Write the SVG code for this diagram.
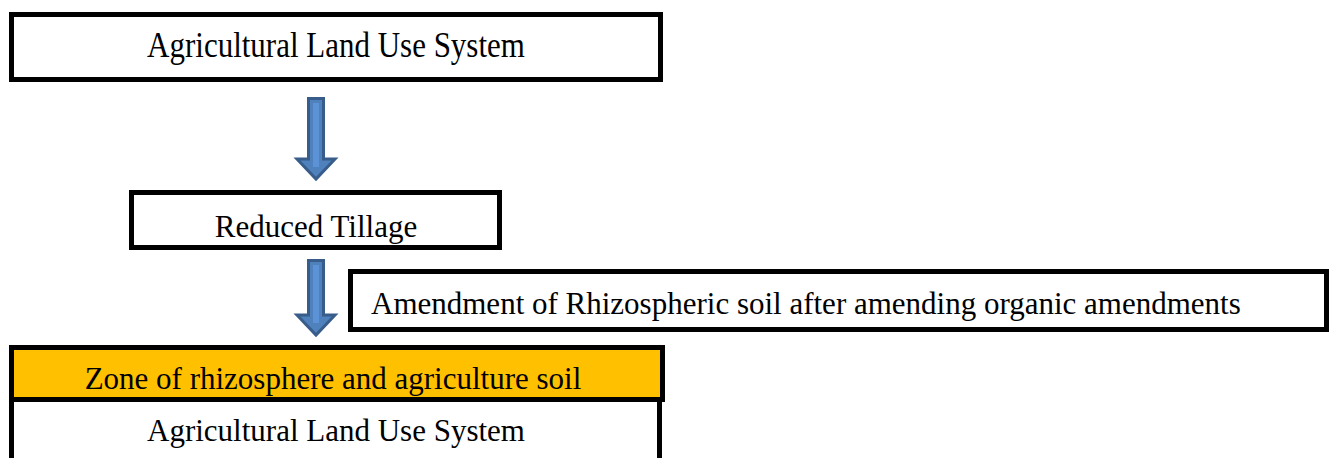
<svg xmlns="http://www.w3.org/2000/svg" width="1329" height="458" viewBox="0 0 1329 458">
<style>
.box{fill:#fff;stroke:#000;stroke-width:5}
.t{font-family:"Liberation Serif","Times New Roman",serif;font-size:31px;fill:#000}
.arrow{fill:#4F81BD;stroke:#385D8A;stroke-width:3;stroke-linejoin:miter}
.arrowin{fill:#5B93D6;stroke:none}
</style>
<rect width="1329" height="458" fill="#fff"/>
<g id="connectors">
<path class="arrow" d="M308.5,98.5 H323.5 V159 H335 L316,179 L297,159 H308.5 Z"/>
<rect class="arrowin" x="313" y="103" width="6" height="64"/>
<path class="arrow" d="M308.5,260.5 H323.5 V315 H335 L316,335 L297,315 H308.5 Z"/>
<rect class="arrowin" x="313" y="265" width="6" height="58"/>
</g>
<g id="node-top">
<rect class="box" x="11.5" y="14.5" width="649" height="65"/>
<text class="t" x="336" y="57" text-anchor="middle" transform="translate(0,57) scale(1,1.15) translate(0,-57)">Agricultural Land Use System</text>
</g>
<g id="node-tillage">
<rect class="box" x="131.5" y="192.5" width="368" height="55"/>
<text class="t" x="316" y="237" text-anchor="middle">Reduced Tillage</text>
</g>
<g id="node-amendment">
<rect class="box" x="350.5" y="271.5" width="976" height="58"/>
<text class="t" x="371" y="314">Amendment of Rhizospheric soil after amending organic amendments</text>
</g>
<g id="node-zone">
<rect class="box" x="11.5" y="399.5" width="648" height="70"/>
<text class="t" x="336" y="441" text-anchor="middle">Agricultural Land Use System</text>
<rect x="11.5" y="347.5" width="651" height="52" fill="#FFC000" stroke="#000" stroke-width="5"/>
<text class="t" x="333" y="389" text-anchor="middle">Zone of rhizosphere and agriculture soil</text>
</g>
</svg>
